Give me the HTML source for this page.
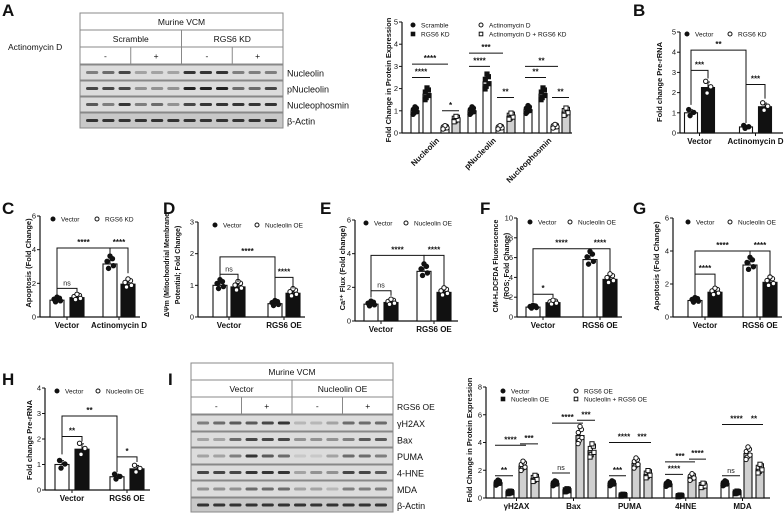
<!DOCTYPE html>
<html><head><meta charset="utf-8">
<style>
html,body{margin:0;padding:0;background:#fff;}
svg{display:block;font-family:"Liberation Sans",Arial,sans-serif;}
</style></head>
<body>
<svg id="fig" width="784" height="519" viewBox="0 0 784 519" xmlns="http://www.w3.org/2000/svg"></svg>
<script>
// ---------- Data ----------
const aCategories = ["Nucleolin","pNucleolin","Nucleophosmin"];
const aScramble = [1.0,1.0,1.05];
const aRgs6Kd = [1.75,2.3,1.75];
const aActD = [0.25,0.25,0.3];
const aActDRgs6 = [0.62,0.75,0.95];
const aTicks = [0,1,2,3,4,5];

const bCategories = ["Vector","Actinomycin D"];
const bVector = [1.0,0.3];
const bRgs6Kd = [2.25,1.3];
const bTicks = [0,1,2,3,4,5];

const cCategories = ["Vector","Actinomycin D"];
const cVector = [1.0,3.15];
const cRgs6Kd = [1.15,1.95];
const cTicks = [0,2,4,6];

const dCategories = ["Vector","RGS6 OE"];
const dVector = [1.0,0.42];
const dNucOE = [0.95,0.75];
const dTicks = [0,1,2,3];

const eCategories = ["Vector","RGS6 OE"];
const eVector = [1.0,2.95];
const eNucOE = [1.1,1.7];
const eTicks = [0,2,4,6];

const fCategories = ["Vector","RGS6 OE"];
const fVector = [1.0,5.8];
const fNucOE = [1.45,3.8];
const fTicks = [0,2,4,6,8,10];

const gCategories = ["Vector","RGS6 OE"];
const gVector = [1.0,3.15];
const gNucOE = [1.5,2.1];
const gTicks = [0,2,4,6];

const hCategories = ["Vector","RGS6 OE"];
const hVector = [1.0,0.52];
const hNucOE = [1.6,0.83];
const hTicks = [0,1,2,3,4];

const iCategories = ["γH2AX","Bax","PUMA","4HNE","MDA"];
const iVector = [1.1,1.05,1.05,1.0,1.05];
const iNucOE = [0.4,0.55,0.2,0.15,0.4];
const iRgs6OE = [2.3,4.5,2.5,1.5,3.2];
const iCombo = [1.4,3.4,1.7,0.9,2.1];
const iTicks = [0,2,4,6,8];

// ---------- helpers ----------
const NS="http://www.w3.org/2000/svg";
const svg=document.getElementById('fig');
function mk(tag,attrs,parent,text){
  const e=document.createElementNS(NS,tag);
  for(const k in attrs) e.setAttribute(k,attrs[k]);
  if(text!==undefined) e.textContent=text;
  (parent||svg).appendChild(e);
  return e;
}
function txt(x,y,s,size,opts,parent){
  opts=opts||{};
  const t=mk('text',{x:x,y:y,'font-size':size,fill:'#111','text-anchor':opts.anchor||'start','font-weight':opts.bold?'bold':'normal'},parent,s);
  if(opts.rot!==undefined) t.setAttribute('transform','rotate('+opts.rot+' '+x+' '+y+')');
  return t;
}
function linearY(v,cfg){return cfg.y0-(v/cfg.ymax)*(cfg.y0-cfg.yTop);}

function drawPanel(cfg,name){
  const g=mk('g',{});
  
  
  const ax=mk('line',{x1:cfg.ax,y1:cfg.yTop,x2:cfg.ax,y2:cfg.y0,stroke:'#111','stroke-width':1.2},g);
  
  
  const xa=mk('line',{x1:cfg.ax,y1:cfg.y0,x2:cfg.axEnd,y2:cfg.y0,stroke:'#111','stroke-width':1.2},g);
  
  
  cfg.ticks.forEach(t=>{
    const y=linearY(t,cfg);
    mk('line',{x1:cfg.ax-3,y1:y,x2:cfg.ax,y2:y,stroke:'#111','stroke-width':1},g);
    const tl=txt(cfg.ax-4,y+2.5,String(t),7.5,{anchor:'end'},g);
    
    
  });
  const nS=cfg.series.length;
  cfg.categories.forEach((c,ci)=>{
    cfg.series.forEach((s,si)=>{
      const bi=ci*nS+si;
      const x=cfg.barX[bi];
      const v=s.values[ci];
      const y=linearY(v,cfg);
      const r=mk('rect',{x:x-cfg.bw/2,y:y,width:cfg.bw,height:cfg.y0-y,fill:s.fill,stroke:'#111','stroke-width':1.1},g);
      
      
      const e=v*0.1+0.05;
      const ye=linearY(v+e,cfg);
      mk('line',{x1:x,y1:y,x2:x,y2:ye,stroke:'#111','stroke-width':1},g);
      mk('line',{x1:x-2,y1:ye,x2:x+2,y2:ye,stroke:'#111','stroke-width':1},g);
      cfg.ptOffsets.forEach(o=>{
        const pv=v+o[1]*(v*0.15+0.05);
        const py=linearY(pv,cfg);
        const px=x+o[0]*cfg.bw*0.35;
        if(s.marker==='square'||s.marker==='osquare'){
          mk('rect',{x:px-2.1,y:py-2.1,width:4.2,height:4.2,fill:s.marker==='square'?'#111':'#fff',stroke:'#111','stroke-width':1},g);
        } else {
          mk('circle',{cx:px,cy:py,r:2.2,fill:s.marker==='dot'?'#111':'#fff',stroke:'#111','stroke-width':1},g);
        }
      });
    });
    const cx=cfg.barX.slice(ci*nS,ci*nS+nS).reduce((a,b)=>a+b,0)/nS;
    let lab;
    if(cfg.rotLabels){
      lab=txt(cx+4,cfg.y0+8,c,8,{anchor:'end',bold:true,rot:-45},g);
    } else {
      mk('line',{x1:cx,y1:cfg.y0,x2:cx,y2:cfg.y0+3,stroke:'#111','stroke-width':1},g);
      lab=txt(cx,cfg.y0+11,c,8,{anchor:'middle',bold:true},g);
    }
    
    
  });
  (cfg.brackets||[]).forEach(b=>{
    const xa=cfg.barX[b[0]], xb=cfg.barX[b[1]];
    const y=linearY(b[2],cfg);
    if(cfg.style==='line'){
      mk('line',{x1:xa-3,y1:y,x2:xb+3,y2:y,stroke:'#111','stroke-width':1},g);
    } else {
      const ya=linearY(b[3],cfg), yb=linearY(b[4],cfg);
      mk('polyline',{points:xa+','+ya+' '+xa+','+y+' '+xb+','+y+' '+xb+','+yb,fill:'none',stroke:'#111','stroke-width':1},g);
    }
    const lbl=b[b.length-1];
    const st=txt((xa+xb)/2,y-3,lbl,lbl==='ns'?7:8,{anchor:'middle',bold:lbl!=='ns'},g);
    
    
  });
  (cfg.legend||[]).forEach(l=>{
    if(l.m==='square'||l.m==='osquare') mk('rect',{x:l.x-1.8,y:l.y-1.8,width:3.6,height:3.6,fill:l.m==='square'?'#111':'#fff',stroke:'#111','stroke-width':1},g);
    else mk('circle',{cx:l.x,cy:l.y,r:2,fill:l.m==='dot'?'#111':'#fff',stroke:'#111','stroke-width':1},g);
    const lt=txt(l.x+8,l.y+2.5,l.t,6.5,{},g);
    
    
  });
  (cfg.ytitle||[]).forEach(t=>{
    const yt=txt(t.x,t.y,t.t,t.s||7.5,{anchor:'middle',bold:true,rot:-90},g);
    
    
  });
}

const pts4=[[-0.6,0.3],[0.5,0.6],[-0.3,-0.5],[0.7,-0.2],[0,0.9],[-0.7,-0.8]];
const pts3=[[-0.5,0.8],[0.6,0.1],[-0.2,-0.7]];

drawPanel({ax:402,axEnd:572,y0:133,yTop:22,ymax:5,ticks:aTicks,bw:8,rotLabels:true,style:'line',ptOffsets:pts4,
  barX:[415,427,445,456,472,487,500,511,528,543,555,566],categories:aCategories,
  series:[{values:aScramble,fill:'#fff',marker:'dot'},{values:aRgs6Kd,fill:'#fff',marker:'square'},{values:aActD,fill:'#fff',marker:'circle'},{values:aActDRgs6,fill:'#d0d0d0',marker:'osquare'}],
  brackets:[[0,1,2.5,'****'],[0,2,3.1,'****'],[2,3,1.0,'*'],
            [4,5,3.0,'****'],[4,6,3.6,'***'],[6,7,1.6,'**'],
            [8,9,2.5,'**'],[8,10,3.0,'**'],[10,11,1.6,'**']],
  legend:[{x:413,y:25,m:'dot',t:'Scramble'},{x:413,y:34,m:'square',t:'RGS6 KD'},{x:481,y:25,m:'circle',t:'Actinomycin D'},{x:481,y:34,m:'osquare',t:'Actinomycin D + RGS6 KD'}],
  ytitle:[{x:391,y:80,t:'Fold Change in Protein Expression',s:7.5}]},'chart-a');

drawPanel({ax:680,axEnd:783,y0:133,yTop:32,ymax:5,ticks:bTicks,bw:13,style:'bracket',ptOffsets:pts3,
  barX:[691,708,746,765],categories:bCategories,
  series:[{values:bVector,fill:'#fff',marker:'dot'},{values:bRgs6Kd,fill:'#111',marker:'circle'}],
  brackets:[[0,1,3.1,1.4,2.7,'***'],[2,3,2.4,0.5,1.7,'***'],[0,2,4.1,1.4,0.5,'**']],
  legend:[{x:687,y:34,m:'dot',t:'Vector'},{x:730,y:34,m:'circle',t:'RGS6 KD'}],
  ytitle:[{x:662,y:82,t:'Fold change Pre-rRNA'}]},'chart-b');

drawPanel({ax:40,axEnd:140,y0:317,yTop:216,ymax:6,ticks:cTicks,bw:14,style:'bracket',ptOffsets:pts4.slice(0,5),
  barX:[57,77,110,128],categories:cCategories,
  series:[{values:cVector,fill:'#fff',marker:'dot'},{values:cRgs6Kd,fill:'#111',marker:'circle'}],
  brackets:[[0,1,1.7,1.3,1.5,'ns'],[0,2,4.1,1.3,3.7,'****'],[2,3,4.1,3.7,2.6,'****']],
  legend:[{x:53,y:219,m:'dot',t:'Vector'},{x:97,y:219,m:'circle',t:'RGS6 KD'}],
  ytitle:[{x:31,y:263,t:'Apoptosis (Fold Change)'}]},'chart-c');

drawPanel({ax:198,axEnd:305,y0:317,yTop:222,ymax:3,ticks:dTicks,bw:14,style:'bracket',ptOffsets:pts4.slice(0,5),
  barX:[220,238,275,293],categories:dCategories,
  series:[{values:dVector,fill:'#fff',marker:'dot'},{values:dNucOE,fill:'#111',marker:'circle'}],
  brackets:[[0,1,1.35,1.15,1.1,'ns'],[0,2,1.9,1.15,0.55,'****'],[2,3,1.25,0.55,0.9,'****']],
  legend:[{x:215,y:225,m:'dot',t:'Vector'},{x:257,y:225,m:'circle',t:'Nucleolin OE'}],
  ytitle:[{x:169,y:265,t:'ΔΨm (Mitochondrial Membrane',s:7},{x:180,y:265,t:'Potential; Fold Change)',s:7}]},'chart-d');

drawPanel({ax:355,axEnd:458,y0:321,yTop:220,ymax:6,ticks:eTicks,bw:14,style:'bracket',ptOffsets:pts4.slice(0,5),
  barX:[371,391,424,444],categories:eCategories,
  series:[{values:eVector,fill:'#fff',marker:'dot'},{values:eNucOE,fill:'#111',marker:'circle'}],
  brackets:[[0,1,1.8,1.4,1.5,'ns'],[0,2,3.9,1.4,3.4,'****'],[2,3,3.9,3.4,2.1,'****']],
  legend:[{x:366,y:223,m:'dot',t:'Vector'},{x:406,y:223,m:'circle',t:'Nucleolin OE'}],
  ytitle:[{x:345,y:268,t:'Ca²⁺ Flux (Fold change)'}]},'chart-e');

drawPanel({ax:517,axEnd:622,y0:317,yTop:218,ymax:10,ticks:fTicks,bw:14,style:'bracket',ptOffsets:pts4.slice(0,5),
  barX:[533,553,590,610],categories:fCategories,
  series:[{values:fVector,fill:'#fff',marker:'dot'},{values:fNucOE,fill:'#111',marker:'circle'}],
  brackets:[[0,1,2.3,1.5,2.0,'*'],[0,2,6.9,1.5,6.4,'****'],[2,3,6.9,6.4,4.6,'****']],
  legend:[{x:530,y:222,m:'dot',t:'Vector'},{x:570,y:222,m:'circle',t:'Nucleolin OE'}],
  ytitle:[{x:498,y:266,t:'CM-H₂DCFDA Fluorescence',s:7},{x:509,y:266,t:'(ROS; Fold Change)',s:7}]},'chart-f');

drawPanel({ax:673,axEnd:782,y0:317,yTop:218,ymax:6,ticks:gTicks,bw:14,style:'bracket',ptOffsets:pts4.slice(0,5),
  barX:[695,715,750,770],categories:gCategories,
  series:[{values:gVector,fill:'#fff',marker:'dot'},{values:gNucOE,fill:'#111',marker:'circle'}],
  brackets:[[0,1,2.6,1.3,1.9,'****'],[0,2,4.0,1.3,3.6,'****'],[2,3,4.0,3.6,2.5,'****']],
  legend:[{x:688,y:222,m:'dot',t:'Vector'},{x:730,y:222,m:'circle',t:'Nucleolin OE'}],
  ytitle:[{x:659,y:266,t:'Apoptosis (Fold Change)'}]},'chart-g');

drawPanel({ax:45,axEnd:150,y0:490,yTop:388,ymax:4,ticks:hTicks,bw:14,style:'bracket',ptOffsets:pts3,
  barX:[62,82,117,137],categories:hCategories,
  series:[{values:hVector,fill:'#fff',marker:'dot'},{values:hNucOE,fill:'#111',marker:'circle'}],
  brackets:[[0,1,2.1,1.4,1.9,'**'],[2,3,1.3,0.7,1.1,'*'],[0,2,2.9,1.4,0.7,'**']],
  legend:[{x:57,y:391,m:'dot',t:'Vector'},{x:98,y:391,m:'circle',t:'Nucleolin OE'}],
  ytitle:[{x:32,y:440,t:'Fold change Pre-rRNA'}]},'chart-h');

drawPanel({ax:486,axEnd:770,y0:498,yTop:387,ymax:8,ticks:iTicks,bw:8,style:'line',ptOffsets:pts4,
  barX:[498,510,523,535,555,567,580,592,612,623,636,648,668,680,692,703,725,737,748,760],categories:iCategories,
  series:[{values:iVector,fill:'#fff',marker:'dot'},{values:iNucOE,fill:'#fff',marker:'square'},{values:iRgs6OE,fill:'#d0d0d0',marker:'circle'},{values:iCombo,fill:'#d0d0d0',marker:'osquare'}],
  brackets:[[0,1,1.6,'**'],[0,2,3.8,'****'],[2,3,3.9,'***'],
            [4,5,1.8,'ns'],[4,6,5.4,'****'],[6,7,5.6,'***'],
            [8,9,1.6,'***'],[8,10,4.0,'****'],[10,11,4.0,'***'],
            [12,13,1.7,'****'],[12,14,2.6,'***'],[14,15,2.8,'****'],
            [16,17,1.6,'ns'],[16,18,5.3,'****'],[18,19,5.3,'**']],
  legend:[{x:503,y:391,m:'dot',t:'Vector'},{x:503,y:399,m:'square',t:'Nucleolin OE'},{x:576,y:391,m:'circle',t:'RGS6 OE'},{x:576,y:399,m:'osquare',t:'Nucleolin + RGS6 OE'}],
  ytitle:[{x:472,y:440,t:'Fold Change in Protein Expression',s:7.5}]},'chart-i');

function blot(x,y,w,rows,headers,labels,intens,name){
  const g=mk('g',{});
  
  
  const hh=17;
  mk('rect',{x:x,y:y,width:w,height:hh*3,fill:'#fff',stroke:'#888','stroke-width':1},g);
  mk('line',{x1:x,y1:y+hh,x2:x+w,y2:y+hh,stroke:'#888'},g);
  mk('line',{x1:x,y1:y+2*hh,x2:x+w,y2:y+2*hh,stroke:'#888'},g);
  mk('line',{x1:x+w/2,y1:y+hh,x2:x+w/2,y2:y+3*hh,stroke:'#888'},g);
  mk('line',{x1:x+w/4,y1:y+2*hh,x2:x+w/4,y2:y+3*hh,stroke:'#888'},g);
  mk('line',{x1:x+3*w/4,y1:y+2*hh,x2:x+3*w/4,y2:y+3*hh,stroke:'#888'},g);
  txt(x+w/2,y+12,'Murine VCM',8.5,{anchor:'middle'},g);
  txt(x+w/4,y+hh+12,headers[0],8.5,{anchor:'middle'},g);
  txt(x+3*w/4,y+hh+12,headers[1],8.5,{anchor:'middle'},g);
  ['-','+','-','+'].forEach((s,i)=>txt(x+w/8+i*w/4,y+2*hh+12,s,8.5,{anchor:'middle'},g));
  let yy=y+3*hh+1;
  rows.forEach((rh,ri)=>{
    mk('rect',{x:x,y:yy,width:w,height:rh,fill:ri===rows.length-1?'#c8c8c8':'#dcdcdc',stroke:'#888','stroke-width':1},g);
    for(let k=0;k<12;k++){
      const a=intens[ri][k];
      mk('rect',{x:x+4+k*(w-8)/12+2,y:yy+rh/2-1.5,width:(w-8)/12-4,height:3,rx:1.5,fill:'#222','fill-opacity':a},g);
    }
    const l=txt(x+w+4,yy+rh/2+4,labels[ri],9,{},g);
    
    
    yy+=rh+1;
  });
}
blot(80,13,203,[15,15,15,15],['Scramble','RGS6 KD'],['Nucleolin','pNucleolin','Nucleophosmin','β-Actin'],
 [[.5,.6,.8,.3,.3,.3,.9,.9,.9,.5,.5,.5],[.8,.8,.8,.4,.4,.4,1,1,1,.6,.6,.8],[.7,.5,.9,.5,.6,.4,.8,.9,.9,.9,.9,.9],[.9,.9,.9,.9,.9,.9,.9,.9,.9,.9,.9,.9]],'blot-a');
blot(191,363,202,[16,15,16,15,16,14],['Vector','Nucleolin OE'],['γH2AX','Bax','PUMA','4-HNE','MDA','β-Actin'],
 [[.5,.6,.7,.7,.8,.9,.2,.2,.3,.6,.6,.6],[.3,.3,.6,.8,.8,.8,.4,.4,.4,.5,.7,.7],[.3,.3,.5,.9,.7,.6,.1,.1,.3,.6,.6,.5],[.8,.8,.8,.9,.9,.9,.3,.4,.4,.8,.8,.7],[.4,.4,.4,.6,.6,.6,.3,.3,.2,.5,.5,.5],[.9,.9,.9,.9,.9,.9,.9,.9,.9,.9,.9,.9]],'blot-i');
const al=txt(8,50,'Actinomycin D',8.5,{});


const rl=txt(397,410,'RGS6 OE',8.5,{});



[['A',2,16],['B',633,16],['C',2,214],['D',163,214],['E',320,214],['F',480,214],['G',633,214],['H',2,385],['I',168,385]].forEach(p=>{
  const t=txt(p[1],p[2],p[0],17,{bold:true});
  
  
});
</script>
</body></html>
